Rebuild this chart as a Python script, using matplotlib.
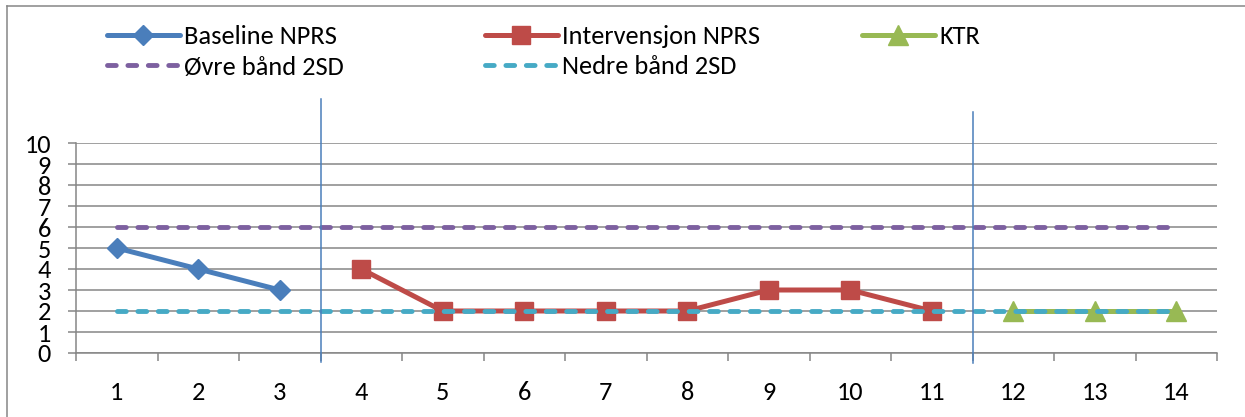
import matplotlib
matplotlib.use("Agg")
import matplotlib.pyplot as plt
from matplotlib.lines import Line2D
import matplotlib.transforms as mtransforms

plt.rcParams["font.family"] = ["Carlito", "Lato", "DejaVu Sans"]

# ---- data ----
sessions = list(range(1, 15))
baseline_x = [1, 2, 3]
baseline_npr = [5, 4, 3]
interv_x = [4, 5, 6, 7, 8, 9, 10, 11]
interv_npr = [4, 2, 2, 2, 2, 3, 3, 2]
ktr_x = [12, 13, 14]
ktr_vals = [2, 2, 2]
upper_band = [6] * 14
lower_band = [2] * 14
phase_breaks = [3.5, 11.5]
y_ticks = list(range(0, 11))

BLUE = "#4A7EBB"
RED = "#BE4B48"
GREEN = "#98B954"
PURPLE = "#7D60A0"
CYAN = "#46AAC5"
GRID = "#868686"

W, H = 1245, 417
FS = 19
fig = plt.figure(figsize=(W / 100, H / 100), dpi=100)
ax = fig.add_axes([76 / W, (H - 353) / H, (1217 - 76) / W, (353 - 143) / H])

dash = dict(lw=3.5, dashes=(1.8, 2.4), dash_capstyle="round", solid_capstyle="round")
h_up, = ax.plot(sessions, upper_band, color=PURPLE, zorder=3, **dash)
h_base, = ax.plot(baseline_x, baseline_npr, color=BLUE, lw=3.6, marker="D", ms=10,
                  zorder=4, solid_capstyle="round")
h_int, = ax.plot(interv_x, interv_npr, color=RED, lw=3.6, marker="s", ms=13,
                 zorder=4, solid_capstyle="round")
h_ktr, = ax.plot(ktr_x, ktr_vals, color=GREEN, lw=3.6, marker="^", ms=14,
                 zorder=4, solid_capstyle="round")
h_low, = ax.plot(sessions, lower_band, color=CYAN, zorder=5, **dash)

# phase dividers (drawn shapes in the original, reaching above/below the plot)
trans = mtransforms.blended_transform_factory(ax.transData, ax.transAxes)
ax.plot([phase_breaks[0]] * 2, [(353 - 362) / 210, (353 - 99) / 210], color=BLUE,
        lw=1.1, transform=trans, clip_on=False, zorder=6)
ax.plot([phase_breaks[1]] * 2, [(353 - 363) / 210, (353 - 112) / 210], color=BLUE,
        lw=1.1, transform=trans, clip_on=False, zorder=6)

# axes styling, Excel look
ax.set_xlim(0.5, 14.5)
ax.set_ylim(0, 10)
ax.set_yticks(y_ticks)
ax.set_xticks(sessions)
ax.set_xticks([i + 0.5 for i in range(0, 15)], minor=True)
ax.tick_params(axis="x", which="major", length=0, pad=20, labelsize=FS)
ax.tick_params(axis="x", which="minor", length=6, width=1.1, color=GRID, direction="out")
ax.tick_params(axis="y", length=6, width=1.1, color=GRID, pad=12, labelsize=FS)
ax.grid(axis="y", color=GRID, lw=1.1)
ax.set_axisbelow(True)
for s in ("top", "right"):
    ax.spines[s].set_visible(False)
for s in ("left", "bottom"):
    ax.spines[s].set_color(GRID)
    ax.spines[s].set_linewidth(1.1)

# legend: one entry per slot, Excel places them on a fixed grid
slots = [
    (h_base, "Baseline NPRS", 107, 37),
    (h_int, "Intervensjon NPRS", 485, 37),
    (h_ktr, "KTR", 862, 37),
    (h_up, "Øvre bånd 2SD", 107, 67),
    (h_low, "Nedre bånd 2SD", 485, 67),
]
for h, lab, px, py in slots:
    fig.legend(handles=[h], labels=[lab], loc="center left",
               bbox_to_anchor=(px / W, 1 - py / H), frameon=False,
               fontsize=FS, handlelength=2.75, handletextpad=0.18,
               borderpad=0, borderaxespad=0)

# outer chart border (top + left only are visible in the crop)
fig.add_artist(Line2D([7 / W, 1], [1 - 6 / H, 1 - 6 / H], color=GRID, lw=1.1))
fig.add_artist(Line2D([7 / W, 7 / W], [0, 1 - 6 / H], color=GRID, lw=1.1))

fig.savefig("out.png", dpi=100)
